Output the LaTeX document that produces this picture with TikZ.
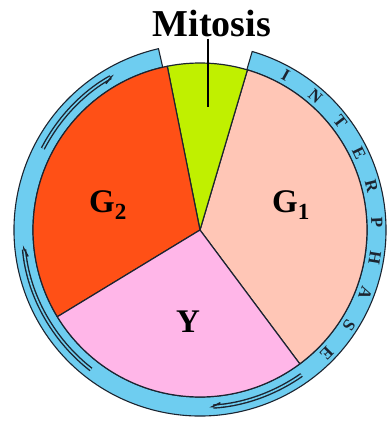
\documentclass[tikz,border=0pt]{standalone}
\usepackage{fontspec}
\setmainfont{Liberation Serif}
\usepackage{tikz}
\usetikzlibrary{arrows.meta,positioning,calc}

\definecolor{mgreen}{RGB}{192,240,0}
\definecolor{gtwo}{RGB}{255,80,22}
\definecolor{gone}{RGB}{255,198,182}
\definecolor{sphase}{RGB}{255,182,232}
\definecolor{ringblue}{RGB}{110,205,240}
\definecolor{edge}{RGB}{28,36,48}

\begin{document}
\begin{tikzpicture}[x=1pt,y=1pt,
  sector/.style={draw=edge,line width=1.2pt,line join=round},
  ring/.style={fill=ringblue,draw=edge,line width=1.1pt,line join=round},
  cyclearrow/.style={draw=edge,line width=1.4pt,double=ringblue,double distance=1.6pt,
    -{Straight Barb[harpoon,swap,length=8pt,width=7pt]}},
  phaselabel/.style={font=\fontsize{33}{33}\selectfont\bfseries,inner sep=0pt},
  phaseletter/.style={font=\fontsize{17}{17}\selectfont\bfseries,inner sep=0pt,text=edge}]

\useasboundingbox (-200,-193) rectangle (189,230);

%% Outer interphase ring (open over mitosis)
\draw[ring] (102.9:167) arc[start angle=102.9,end angle=433.7,radius=167]
  -- (433.7:186) arc[start angle=433.7,end angle=102.9,radius=186] -- cycle;

%% Pie sectors
\coordinate (C) at (0,0);
\filldraw[sector,fill=gone]   (C) -- (-53.3:167) arc[start angle=-53.3,end angle=73.5,radius=167] -- cycle;
\filldraw[sector,fill=mgreen] (C) -- (73.5:167) arc[start angle=73.5,end angle=101.3,radius=167] -- cycle;
\filldraw[sector,fill=gtwo]   (C) -- (101.3:167) arc[start angle=101.3,end angle=211.3,radius=167] -- cycle;
\filldraw[sector,fill=sphase] (C) -- (211.3:167) arc[start angle=211.3,end angle=306.7,radius=167] -- cycle;

%% Clockwise arrows inside the ring
\draw[cyclearrow] (152.6:177) arc[start angle=152.6,end angle=119,radius=177];
\draw[cyclearrow] (232:177) arc[start angle=232,end angle=185,radius=177];
\draw[cyclearrow] (305:177) arc[start angle=305,end angle=273,radius=177];

%% INTERPHASE around the ring
\foreach \ch [count=\i] in {I,N,T,E,R,P,H,A,S,E}{
  \pgfmathsetmacro{\ang}{61-(\i-1)*11.7}
  \node[phaseletter,rotate=\ang-90] (let\i) at (\ang:177) {\ch};
}

%% Phase labels
\node[phaselabel] (gone) at (91,25) {G\textsubscript{1}};
\node[phaselabel] (gtwo) at (-92,25) {G\textsubscript{2}};
\node[phaselabel] (ylab) at (-12,-92) {Y};

%% Mitosis label and pointer
\node[font=\fontsize{38}{38}\selectfont\bfseries,inner sep=1pt,anchor=base] (mitosis) at (12,193) {Mitosis};
\coordinate (mtip) at (8,123);
\draw[line width=2pt] (mitosis.south -| mtip) -- (mtip);

\end{tikzpicture}
\end{document}
